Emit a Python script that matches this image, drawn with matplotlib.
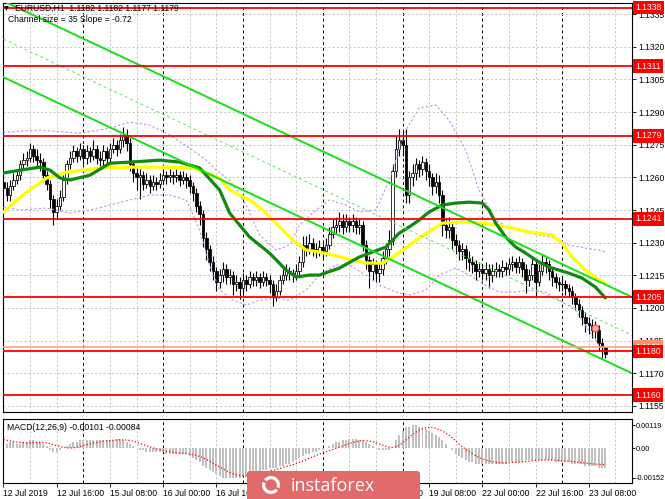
import matplotlib
matplotlib.use("Agg")
import matplotlib.pyplot as plt
import matplotlib.transforms as mtransforms
from matplotlib.patches import Rectangle, FancyBboxPatch, Wedge

plt.rcParams['font.family'] = ['Liberation Sans', 'DejaVu Sans']

# ---------------- data ----------------
first_open = 1.1258
closes = [1.1255,1.1252,1.1256,1.1259,1.1261,1.1266,1.1268,1.1269,1.1273,1.1270,
          1.1268,1.1267,1.1261,1.1257,1.1250,1.1244,1.1247,1.1251,1.1259,1.1266,
          1.1269,1.1272,1.1270,1.1273,1.1269,1.1272,1.1270,1.1273,1.1269,1.1268,
          1.1272,1.1269,1.1273,1.1275,1.1273,1.1277,1.1279,1.1276,1.1266,1.1262,
          1.1260,1.1261,1.1257,1.1259,1.1256,1.1258,1.1257,1.1259,1.1261,1.1260,
          1.1261,1.1260,1.1261,1.1259,1.1260,1.1259,1.1256,1.1253,1.1247,1.1243,
          1.1232,1.1227,1.1221,1.1217,1.1212,1.1215,1.1218,1.1214,1.1215,1.1211,
          1.1212,1.1209,1.1213,1.1211,1.1214,1.1213,1.1214,1.1212,1.1214,1.1213,
          1.1211,1.1205,1.1208,1.1213,1.1215,1.1217,1.1216,1.1215,1.1217,1.1221,
          1.1229,1.1227,1.1230,1.1227,1.1226,1.1228,1.1226,1.1229,1.1234,1.1237,
          1.1238,1.1240,1.1237,1.1240,1.1238,1.1240,1.1237,1.1238,1.1229,1.1222,
          1.1217,1.1220,1.1216,1.1218,1.1223,1.1227,1.1231,1.1263,1.1273,1.1277,
          1.1275,1.1252,1.1260,1.1262,1.1266,1.1264,1.1267,1.1263,1.1260,1.1256,
          1.1258,1.1252,1.1238,1.1236,1.1237,1.1231,1.1229,1.1226,1.1227,1.1223,
          1.1221,1.1220,1.1217,1.1218,1.1216,1.1218,1.1215,1.1217,1.1218,1.1217,
          1.1219,1.1218,1.1220,1.1221,1.1219,1.1221,1.1218,1.1213,1.1215,1.1220,
          1.1212,1.1217,1.1221,1.1220,1.1217,1.1214,1.1212,1.1211,1.1211,1.1209,
          1.1208,1.1205,1.1202,1.1199,1.1196,1.1193,1.1192,1.1190,1.1190,1.1184,
          1.1182,1.1179]
highs = [1.1261,1.1258,1.1259,1.1262,1.1264,1.1268,1.1271,1.1272,1.1276,1.1275,
         1.1273,1.1271,1.1269,1.1263,1.1259,1.1252,1.1250,1.1254,1.1261,1.1268,
         1.1272,1.1275,1.1274,1.1276,1.1275,1.1275,1.1274,1.1277,1.1275,1.1272,
         1.1275,1.1274,1.1276,1.1278,1.1277,1.1280,1.1283,1.1282,1.1278,1.1268,
         1.1265,1.1264,1.1263,1.1262,1.1261,1.1261,1.1260,1.1262,1.1264,1.1263,
         1.1264,1.1263,1.1264,1.1263,1.1263,1.1262,1.1261,1.1258,1.1255,1.1249,
         1.1245,1.1235,1.1229,1.1224,1.1219,1.1218,1.1221,1.1220,1.1218,1.1217,
         1.1215,1.1214,1.1216,1.1215,1.1217,1.1216,1.1217,1.1216,1.1217,1.1216,
         1.1215,1.1213,1.1211,1.1215,1.1218,1.1220,1.1219,1.1218,1.1220,1.1224,
         1.1233,1.1233,1.1234,1.1232,1.1230,1.1231,1.1230,1.1232,1.1237,1.1241,
         1.1242,1.1244,1.1243,1.1243,1.1242,1.1243,1.1242,1.1241,1.1240,1.1231,
         1.1224,1.1223,1.1222,1.1221,1.1226,1.1230,1.1236,1.1266,1.1279,1.1282,
         1.1281,1.1282,1.1263,1.1266,1.1269,1.1268,1.1270,1.1269,1.1266,1.1262,
         1.1262,1.1261,1.1254,1.1241,1.1242,1.1240,1.1234,1.1231,1.1230,1.1229,
         1.1226,1.1224,1.1222,1.1221,1.1220,1.1221,1.1220,1.1220,1.1221,1.1220,
         1.1222,1.1221,1.1223,1.1224,1.1223,1.1224,1.1223,1.1220,1.1218,1.1223,
         1.1222,1.1220,1.1225,1.1224,1.1222,1.1219,1.1216,1.1214,1.1214,1.1213,
         1.1211,1.1210,1.1207,1.1204,1.1201,1.1198,1.1196,1.1195,1.1194,1.1192,
         1.1186,1.1182]
lows = [1.1251,1.1249,1.1249,1.1254,1.1257,1.1259,1.1264,1.1265,1.1267,1.1267,
        1.1265,1.1263,1.1258,1.1254,1.1246,1.1238,1.1241,1.1245,1.1249,1.1257,
        1.1264,1.1267,1.1267,1.1268,1.1266,1.1266,1.1267,1.1268,1.1266,1.1264,
        1.1265,1.1266,1.1267,1.1271,1.1270,1.1271,1.1274,1.1272,1.1263,1.1258,
        1.1254,1.1250,1.1254,1.1255,1.1253,1.1254,1.1254,1.1255,1.1257,1.1257,
        1.1258,1.1257,1.1258,1.1256,1.1257,1.1255,1.1253,1.1249,1.1244,1.1238,
        1.1228,1.1222,1.1217,1.1213,1.1208,1.1209,1.1212,1.1211,1.1211,1.1206,
        1.1208,1.1204,1.1207,1.1208,1.1209,1.1210,1.1210,1.1209,1.1210,1.1210,
        1.1207,1.1201,1.1203,1.1206,1.1211,1.1213,1.1213,1.1212,1.1213,1.1215,
        1.1219,1.1224,1.1225,1.1224,1.1223,1.1224,1.1223,1.1224,1.1227,1.1232,
        1.1234,1.1235,1.1234,1.1235,1.1235,1.1235,1.1234,1.1234,1.1226,1.1218,
        1.1209,1.1213,1.1212,1.1212,1.1215,1.1220,1.1224,1.1229,1.1260,1.1270,
        1.1270,1.1248,1.1248,1.1256,1.1259,1.1260,1.1261,1.1259,1.1256,1.1252,
        1.1253,1.1248,1.1233,1.1232,1.1232,1.1227,1.1225,1.1222,1.1222,1.1218,
        1.1217,1.1216,1.1213,1.1214,1.1213,1.1213,1.1209,1.1212,1.1214,1.1214,
        1.1214,1.1215,1.1215,1.1217,1.1216,1.1216,1.1214,1.1207,1.1210,1.1213,
        1.1205,1.1210,1.1215,1.1216,1.1213,1.1210,1.1209,1.1208,1.1208,1.1206,
        1.1205,1.1202,1.1199,1.1196,1.1192,1.1189,1.1188,1.1186,1.1186,1.1180,
        1.1177,1.1177]

# moving averages / bands read at selected bars: (bar index, price)
ma_green_idx = [0,5,11,14,17,20,26,32,38,47,53,59,65,68,74,80,85,88,92,95,101,107,115,119,122,125,128,132,136,140,144,146,148,151,154,157,161,164,170,174,178,181]
ma_green_val = [1.12620,1.12633,1.12647,1.12633,1.12597,1.12588,1.12610,1.12665,1.12670,1.12679,1.12670,1.12643,1.12542,1.12436,1.12326,1.12252,1.12174,1.12142,1.12151,1.12151,1.12183,1.12234,1.12280,1.12344,1.12372,1.12404,1.12441,1.12473,1.12482,1.12486,1.12482,1.12450,1.12390,1.12326,1.12280,1.12252,1.12211,1.12188,1.12160,1.12137,1.12096,1.12046]
ma_yellow_idx = [0,5,9,13,19,29,39,49,57,61,65,68,74,78,81,84,87,91,95,99,105,109,114,117,120,125,132,138,144,148,153,158,165,168,171,175,179,181]
ma_yellow_val = [1.12440,1.12509,1.12555,1.12597,1.12624,1.12643,1.12647,1.12647,1.12643,1.12620,1.12597,1.12542,1.12496,1.12450,1.12404,1.12358,1.12312,1.12266,1.12257,1.12243,1.12220,1.12206,1.12206,1.12234,1.12266,1.12321,1.12390,1.12395,1.12390,1.12381,1.12367,1.12349,1.12335,1.12298,1.12234,1.12174,1.12128,1.12115]
band_up_idx = [0,11,23,32,38,44,50,56,61,64,68,73,77,82,86,89,94,98,103,107,112,116,121,125,130,134,139,143,148,152,157,161,166,170,175,179,181]
band_up_val = [1.12808,1.12817,1.12803,1.12826,1.12854,1.12840,1.12794,1.12734,1.12679,1.12633,1.12587,1.12473,1.12335,1.12266,1.12289,1.12381,1.12450,1.12496,1.12473,1.12441,1.12450,1.12587,1.12817,1.12918,1.12932,1.12863,1.12725,1.12542,1.12404,1.12367,1.12349,1.12335,1.12321,1.12289,1.12275,1.12266,1.12257]
band_lo_idx = [0,5,13,20,26,32,38,44,50,55,59,62,65,69,73,77,82,86,91,95,100,104,109,113,118,122,127,131,136,140,145,149,154,158,163,167,172,176,179,181]
band_lo_val = [1.12464,1.12450,1.12459,1.12436,1.12450,1.12473,1.12496,1.12519,1.12519,1.12496,1.12358,1.12197,1.12082,1.12036,1.12013,1.12036,1.12046,1.12036,1.12082,1.12151,1.12197,1.12197,1.12151,1.12105,1.12073,1.12059,1.12082,1.12151,1.12183,1.12151,1.12105,1.12073,1.12073,1.12082,1.12073,1.12036,1.11990,1.11899,1.11830,1.11798]

# regression channel (size 35 pips, slope -0.72 pip/bar): endpoints (bar, price)
channel_idx = [0, 189]
channel_upper = [1.1341, 1.1205]
channel_mid = [1.13235, 1.11875]
channel_lower = [1.1306, 1.1170]

levels = [1.1338, 1.1311, 1.1279, 1.1241, 1.1205, 1.1180, 1.1160]
bid_level = 1.1182
marker_idx, marker_val = [178], [1.1191]

price_ticks = [1.1155,1.1170,1.1185,1.1200,1.1215,1.1230,1.1245,1.1260,1.1275,1.1290,1.1305,1.1320,1.1335]

macd_hist = [2,2,3,3,2,2,3,3,4,4,3,3,2,1,
             -1,-2,-2,-1,0,
             1,2,3,3,4,4,
             4,4,4,4,4,4,4,4,4,5,5,4,
             3,2,1,0,-1,-1,
             -2,-2,-2,-2,-2,-2,-3,-3,-3,-3,-3,-3,-3,
             -4,-5,-6,-7,-9,
             -10,-11,-12,-13,-14,-15,-15,-15,-15,-15,
             -15,-14,-14,-13,-13,-12,-12,-11,-11,-10,
             -10,-10,-9,-9,-8,-8,-7,-6,-5,-4,
             -3,-3,-2,-2,-1,-1,
             0,1,2,3,3,4,4,5,5,5,4,4,3,2,
             1,0,-1,-1,-1,-1,0,
             4,7,9,11,11,
             12,12,11,11,10,9,8,7,
             6,4,2,0,-1,
             -3,-4,-5,-6,-7,-7,-8,
             -8,-8,-8,-8,-8,-8,-8,-8,-8,-7,-7,-7,-7,-7,-6,-6,-6,-6,
             -6,-6,-6,-6,-6,-7,-7,-7,-7,-7,
             -8,-8,-8,-8,-9,-9,-9,-9,-10,-10,-10.1]   # units of 1e-4
macd_signal = [4.4,4.1,3.8,3.5,3.2,3.0,2.9,2.8,2.8,2.9,3.0,3.1,3.0,2.8,
               2.4,1.9,1.4,0.9,0.5,
               0.2,0.1,0.2,0.5,0.9,1.4,
               1.9,2.3,2.7,3.0,3.3,3.6,3.8,4.0,4.1,4.2,4.3,4.3,
               4.2,4.0,3.6,3.1,2.5,1.9,
               1.3,0.7,0.2,-0.3,-0.7,-1.1,-1.5,-1.8,-2.1,-2.3,-2.5,-2.7,-2.8,
               -3.0,-3.3,-3.7,-4.2,-4.9,
               -5.7,-6.6,-7.6,-8.6,-9.6,-10.6,-11.5,-12.3,-13.0,-13.5,
               -13.9,-14.1,-14.2,-14.1,-13.9,-13.6,-13.2,-12.8,-12.3,-11.8,
               -11.3,-10.9,-10.4,-9.9,-9.4,-8.9,-8.4,-7.8,-7.2,-6.5,
               -5.8,-5.1,-4.4,-3.7,-3.0,-2.4,
               -1.8,-1.2,-0.6,0.0,0.6,1.2,1.8,2.4,2.9,3.4,3.7,3.9,3.9,3.7,
               3.3,2.8,2.2,1.6,1.0,0.6,0.4,
               0.8,1.6,2.8,4.2,5.6,
               7.0,8.2,9.2,10.0,10.5,10.7,10.6,10.2,
               9.6,8.8,7.8,6.6,5.2,
               3.7,2.2,0.8,-0.5,-1.7,-2.8,-3.8,
               -4.7,-5.4,-6.0,-6.5,-6.9,-7.2,-7.4,-7.5,-7.5,-7.4,-7.3,-7.2,-7.1,-7.0,-6.8,-6.6,-6.4,-6.2,
               -6.1,-6.0,-6.0,-6.0,-6.0,-6.1,-6.2,-6.4,-6.5,-6.6,
               -6.8,-7.0,-7.2,-7.4,-7.6,-7.8,-8.0,-8.1,-8.2,-8.3,-8.4]  # units of 1e-4

time_tick_idx = [0,16,32,48,64,80,96,112,128,144,160,176]
time_tick_labels = ["12 Jul 2019","12 Jul 16:00","15 Jul 08:00","16 Jul 00:00","16 Jul 16:00",
                    "17 Jul 08:00","18 Jul 00:00","18 Jul 16:00","19 Jul 08:00","22 Jul 00:00",
                    "22 Jul 16:00","23 Jul 08:00"]
day_sep_idx = [24,48,72,96,120,144,168]
macd_ticks = [0.00119, 0.0, -0.00152]
macd_tick_labels = ["0.00119", "0.00", "-0.00152"]

# ---------------- figure ----------------
W, H = 665, 499
fig = plt.figure(figsize=(W/100, H/100), dpi=100)
fig.patch.set_facecolor('white')

def ax_px(l, t, r, b):
    return fig.add_axes([l/W, 1-b/H, (r-l)/W, (b-t)/H])

ax = ax_px(3, 3, 632, 412)
axm = ax_px(3, 419, 632, 483)

XL = (-0.15, 189.0)
for a in (ax, axm):
    a.set_xlim(*XL)
    a.set_facecolor('white')
    for s in a.spines.values():
        s.set_color('black'); s.set_linewidth(0.8)
ax.set_ylim(1.11522, 1.13401)
axm.set_ylim(-0.00178, 0.00150)

# grid
gray = '#BDBDBD'
for a in (ax, axm):
    for k in range(8, 190, 8):
        if k in day_sep_idx:
            a.axvline(k, color='black', lw=0.7, ls=(0, (3, 3)), zorder=0.5)
        else:
            a.axvline(k, color=gray, lw=0.6, ls=(0, (2.5, 2.5)), zorder=0.5)
for p in price_ticks:
    ax.axhline(p, color=gray, lw=0.6, ls=(0, (2.5, 2.5)), zorder=0.5)

# candles
opens = [first_open] + closes[:-1]
for i, (o, h, l, c) in enumerate(zip(opens, highs, lows, closes)):
    ax.plot([i, i], [l, h], color='black', lw=0.8, zorder=2, solid_capstyle='butt')
    lo, hi = min(o, c), max(o, c)
    if hi - lo < 1e-9:
        ax.plot([i-0.4, i+0.4], [c, c], color='black', lw=0.8, zorder=2.1)
    else:
        fc = 'white' if c > o else 'black'
        ax.add_patch(Rectangle((i-0.38, lo), 0.76, hi-lo, facecolor=fc,
                               edgecolor='black', lw=0.55, zorder=2.1))

# bands, MAs
violet = '#C58CEB'
ax.plot(band_up_idx, band_up_val, color=violet, lw=0.8, ls=(0, (2, 2)), zorder=3)
ax.plot(band_lo_idx, band_lo_val, color=violet, lw=0.8, ls=(0, (2, 2)), zorder=3)
ax.plot(ma_yellow_idx, ma_yellow_val, color='#FFFF00', lw=2.3, zorder=3.2, solid_capstyle='round')
ax.plot(ma_green_idx, ma_green_val, color='#0F8A0F', lw=2.3, zorder=3.3, solid_capstyle='round')

# channel
lime = '#16E016'
ax.plot(channel_idx, channel_upper, color=lime, lw=1.4, zorder=3.5)
ax.plot(channel_idx, channel_lower, color=lime, lw=1.4, zorder=3.5)
ax.plot(channel_idx, channel_mid, color='#5EE65E', lw=0.7, ls=(0, (3, 3)), zorder=3.5)

# horizontal levels
ax.axhline(bid_level, color='#FFA080', lw=1.2, zorder=3.6)
for lv in levels:
    ax.axhline(lv, color='#FF0000', lw=1.3, zorder=3.7)

ax.plot(marker_idx, marker_val, 'o', ms=5, mfc='#FFB0B0', mec='#FF4040', mew=0.8, zorder=4)

# price axis
ax.yaxis.tick_right()
ax.set_yticks(price_ticks)
ax.set_yticklabels([f"{p:.4f}" for p in price_ticks])
ax.tick_params(axis='y', length=3, width=0.6, pad=1.5, labelsize=6.2, colors='black')
ax.set_xticks([])

blend = mtransforms.blended_transform_factory(ax.transAxes, ax.transData)
def tag(level, text, color, z):
    ax.text(1.0 + 3/629, level, text, transform=blend, ha='left', va='center',
            fontsize=6.2, color='white', zorder=z, clip_on=False,
            bbox=dict(boxstyle='square,pad=0.28', fc=color, ec='none'))
tag(bid_level, f"{bid_level:.4f}", '#FF9070', 6)
for lv in levels:
    tag(lv, f"{lv:.4f}", '#FF0000', 7)

# MACD
hist_vals = [v * 1e-4 for v in macd_hist]
sig_vals = [v * 1e-4 for v in macd_signal]
idx = list(range(len(hist_vals)))
axm.bar(idx, hist_vals, width=0.6, color='#C0C0C0', zorder=2)
axm.plot(list(range(len(sig_vals))), sig_vals, color='#FF0000', lw=0.9,
         ls=(0, (1, 1.6)), zorder=3)
axm.yaxis.tick_right()
axm.set_yticks(macd_ticks)
axm.set_yticklabels(macd_tick_labels)
axm.tick_params(axis='y', length=1.8, width=0.6, pad=0.6, labelsize=5.3)
axm.set_xticks(time_tick_idx)
axm.set_xticklabels(time_tick_labels)
axm.tick_params(axis='x', length=3, width=0.6, pad=1.5, labelsize=6.2)
for t in axm.get_xticklabels():
    t.set_ha('left')
axm.text(4/629, 0.86, "MACD(12,26,9) -0.00101 -0.00084", transform=axm.transAxes,
         fontsize=6.2, va='center', ha='left', zorder=5)

# overlay in pixel coordinates
ov = fig.add_axes([0, 0, 1, 1], zorder=10)
ov.set_xlim(0, W); ov.set_ylim(H, 0); ov.axis('off')
ov.patch.set_alpha(0)
ov.text(4, 8.5, "\u25bc", fontsize=4.5, va='center', ha='left', family='DejaVu Sans')
ov.text(15, 8.5, "EURUSD,H1  1.1182 1.1182 1.1177 1.1179", fontsize=6.2, va='center', ha='left')
ov.text(8, 19.5, "Channel size = 35 Slope = -0.72", fontsize=6.2, va='center', ha='left')

logo_col = '#E26A6A'
ov.add_patch(FancyBboxPatch((247, 471), 173, 34, boxstyle='round,pad=0,rounding_size=3',
                            fc=logo_col, ec='none', zorder=10))
ov.text(333, 486, "instaforex", color='white', fontsize=13, ha='center', va='center',
        family='Open Sans', zorder=11)
ov.add_patch(Wedge((271, 485), 9, 40, 200, width=3.2, fc='white', ec='none', zorder=11))
ov.add_patch(Wedge((271, 485), 9, 220, 380, width=3.2, fc='white', ec='none', zorder=11))

fig.savefig("out.png", dpi=100, facecolor='white')
